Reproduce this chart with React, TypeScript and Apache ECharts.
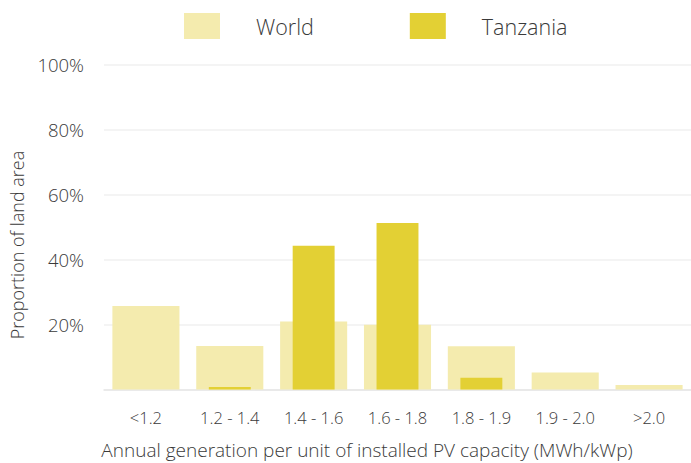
import React, { useEffect, useRef } from "react";
import * as echarts from "echarts";

const categories = ["<1.2", "1.2 - 1.4", "1.4 - 1.6", "1.6 - 1.8", "1.8 - 1.9", "1.9 - 2.0", ">2.0"];
const worldValues = [25.7, 13.4, 20.9, 19.9, 13.3, 5.2, 1.4];
const tanzaniaValues = [0, 0.8, 44.2, 51.2, 3.6, 0, 0];
const seriesNames = ["World", "Tanzania"];
const yTitle = "Proportion of land area";
const xTitle = "Annual generation per unit of installed PV capacity (MWh/kWp)";

const FONT = "'Open Sans', 'Noto Sans', sans-serif";
const TEXT = "#3a3a3a";

export default function App() {
  const ref = useRef<HTMLDivElement>(null);
  useEffect(() => {
    if (!ref.current) return;
    const chart = echarts.init(ref.current, null, { renderer: "svg" });
    chart.setOption({
      animation: false,
      textStyle: { fontFamily: FONT },
      legend: {
        left: 179,
        top: 8,
        itemWidth: 36,
        itemHeight: 26,
        itemGap: 96,
        icon: "rect",
        textStyle: { fontSize: 21.5, color: TEXT, fontFamily: FONT, fontWeight: 300, padding: [0, 0, 0, 31] },
        data: seriesNames,
      },
      grid: { left: 104, right: -4, top: 64.5, bottom: 73.5 },
      xAxis: [
        {
          type: "category",
          data: categories,
          axisLine: { show: true, lineStyle: { color: "#e6e6e6", width: 1.5 } },
          axisTick: { show: false },
          axisLabel: { color: TEXT, fontSize: 16.5, fontFamily: FONT, fontWeight: 300, margin: 19 },
        },
        {
          type: "category",
          data: categories,
          show: false,
        },
      ],
      yAxis: {
        type: "value",
        min: 0,
        max: 100,
        interval: 20,
        axisLine: { show: false },
        axisTick: { show: false },
        splitLine: { lineStyle: { color: "#f0f0f0", width: 1.5 } },
        axisLabel: {
          color: TEXT,
          fontSize: 18.5,
          fontFamily: FONT,
          fontWeight: 300,
          margin: 20,
          formatter: (v: number) => (v === 0 ? "" : v + "%"),
        },
      },
      graphic: [
        {
          type: "text",
          x: 17,
          y: 245,
          rotation: Math.PI / 2,
          style: {
            text: yTitle,
            fill: TEXT,
            fontSize: 18,
            fontFamily: FONT,
            fontWeight: 300,
            align: "center",
            verticalAlign: "middle",
          },
        },
        {
          type: "text",
          x: 367,
          y: 450,
          style: {
            text: xTitle,
            fill: TEXT,
            fontSize: 19,
            fontFamily: FONT,
            fontWeight: 300,
            align: "center",
            verticalAlign: "middle",
          },
        },
      ],
      series: [
        {
          name: seriesNames[0],
          type: "bar",
          xAxisIndex: 0,
          barWidth: "80%",
          data: worldValues,
          itemStyle: { color: "#F4EBAE" },
          z: 1,
        },
        {
          name: seriesNames[1],
          type: "bar",
          xAxisIndex: 1,
          barWidth: "50%",
          data: tanzaniaValues,
          itemStyle: { color: "#E3D034" },
          z: 2,
        },
      ],
    });
    return () => chart.dispose();
  }, []);
  return (
    <div
      ref={ref}
      style={{ position: "absolute", left: 0, top: 0, width: 691, height: 463, background: "#fff" }}
    />
  );
}
